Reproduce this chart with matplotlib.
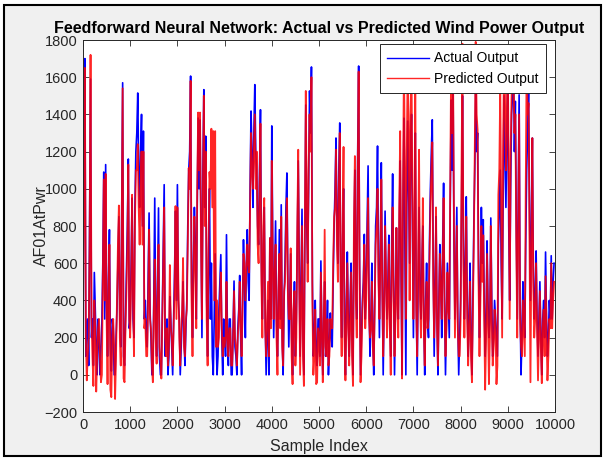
import numpy as np
import matplotlib
matplotlib.use("Agg")
import matplotlib.pyplot as plt
from matplotlib.patches import Rectangle

plt.rcParams['font.family'] = ['Liberation Sans', 'DejaVu Sans']

# values read every 20 samples: the *_mid lists sit half way (20, 60, 100, ...)
STEP = 40

actual = [
    # 0 - 960
    450, 1700, 250, 50, 1590, 300, 550, 150, 300, 0, 280, 1090, 1130, 100, 780,
    20, 250, 0, 350, 850, 150, 1570, 50, 550, 1160,
    # 1000 - 1960
    300, 950, 200, 1200, 1515, 900, 1400, 1310, 400, 150, 870, 200, 0, 950, 100,
    897, 0, 350, 1022, 250, 0, 420, 150, 300, 880,
    # 2000 - 2960
    1022, 300, 150, 500, 50, 400, 1100, 1606, 200, 900, 300, 1380, 1370, 200, 1533,
    1283, 100, 1000, 600, 0, 650, 0, 350, 646, 0,
    # 3000 - 3960
    250, 753, 50, 300, 0, 504, 100, 250, 534, 0, 726, 200, 780, 400, 1418,
    900, 1560, 1100, 700, 1425, 300, 900, 0, 400, 735,
    # 4000 - 4960
    1338, 200, 827, 100, 780, 914, 0, 600, 1085, 150, 650, 0, 500, 300, 1150,
    100, 890, 0, 1450, 600, 1526, 1655, 100, 400, 50,
    # 5000 - 5960
    300, 612, 0, 500, 200, 0, 332, 150, 800, 1273, 600, 1354, 200, 1000, 0,
    660, 100, 600, 0, 1100, 300, 1660, 0, 400, 755,
    # 6000 - 6960
    500, 1123, 100, 600, 0, 800, 1230, 200, 1140, 0, 880, 300, 750, 100, 1080,
    0, 790, 300, 1150, 0, 1380, 0, 1364, 600, 1400,
    # 7000 - 7960
    200, 1300, 0, 900, 300, 800, 0, 600, 200, 1000, 1371, 100, 850, 0, 700,
    200, 1030, 0, 600, 200, 1477, 1550, 300, 900, 0,
    # 8000 - 8960
    400, 1500, 300, 957, 100, 600, 0, 800, 1526, 1300, 200, 900, 834, 100, 720,
    200, 843, 100, 400, 200, 700, 1100, 300, 1500, 900,
    # 9000 - 9960
    1600, 400, 1400, 1700, 1470, 300, 1505, 0, 500, 200, 1100, 1530, 400, 1273, 300,
    666, 100, 500, 0, 400, 660, 100, 400, 640, 500,
]

actual_mid = [
    1200, 100, 300, 800, 200, 50, 350, 0, 200, 150, 600, 300, 400, 500, 150,
    300, 0, 200, 600, 300, 900, 100, 300, 800, 250,
    600, 300, 900, 1300, 1100, 1200, 800, 300, 200, 500, 350, 0, 400, 300, 500,
    100, 0, 700, 100, 300, 100, 300, 0, 550, 400,
    400, 0, 300, 200, 250, 800, 1200, 500, 600, 700, 900, 1000, 800, 1100, 900,
    400, 600, 300, 100, 300, 200, 100, 500, 200, 300,
    100, 200, 300, 0, 250, 150, 0, 350, 200, 400, 500, 600, 500, 1000, 1200,
    1300, 1200, 800, 1100, 600, 700, 300, 200, 0, 300,
    700, 500, 300, 400, 300, 200, 400, 900, 500, 400, 200, 300, 100, 700, 600,
    500, 200, 700, 800, 1000, 1300, 500, 200, 100, 300,
    100, 200, 300, 100, 400, 150, 200, 500, 1000, 800, 1100, 500, 700, 300, 400,
    300, 400, 200, 700, 500, 1200, 600, 200, 500, 300,
    800, 400, 300, 200, 400, 900, 600, 700, 500, 400, 500, 500, 300, 700, 500,
    400, 500, 800, 500, 900, 700, 900, 1000, 1200, 800,
    700, 400, 500, 500, 600, 300, 400, 300, 700, 1200, 600, 500, 300, 400, 500,
    700, 400, 300, 400, 900, 1100, 700, 600, 300, 200,
    900, 700, 600, 400, 300, 200, 400, 1100, 1200, 600, 500, 600, 400, 300, 400,
    300, 400, 200, 300, 100, 900, 600, 900, 1200, 1300,
    800, 1000, 1500, 1200, 800, 900, 400, 200, 300, 700, 1300, 900, 800, 600, 400,
    300, 300, 200, 300, 200, 300, 200, 300, 300, 600,
]

predicted = [
    # 0 - 960
    300, 1650, -30, 200, 1720, 100, 400, -90, 250, 100, 0, 1050, 1080, -50, 700,
    -120, 300, -130, 400, 910, 50, 1540, -40, 450, 1130,
    # 1000 - 1960
    200, 968, 100, 1100, 1240, 700, 1200, 1200, 300, 100, 780, 250, -40, 620, 60,
    700, 80, 300, 900, 100, 50, 590, 200, 250, 907,
    # 2000 - 2960
    900, 200, 250, 628, 100, 350, 1112, 1580, 100, 850, 250, 1410, 1410, 300, 1500,
    1200, 50, 1090, 1323, 1310, 1310, 400, 200, 550, 100,
    # 3000 - 3960
    150, 500, 100, 250, 50, 450, 150, 200, 500, 100, 650, 400, 700, 550, 1300,
    1000, 1400, 1200, 600, 1350, 200, 950, 100, 500, 735,
    # 4000 - 4960
    1150, 300, 700, 0, 650, 850, 50, 500, 950, 300, 680, -50, 450, 200, 1210,
    0, 800, -60, 1526, 500, 1400, 1600, 0, 350, -40,
    # 5000 - 5960
    200, 550, -40, 780, 100, 50, 300, 250, 850, 1210, 500, 1300, 100, 1225, -30,
    600, 50, 550, -60, 1176, 200, 1630, -40, 350, 700,
    # 6000 - 6960
    400, 950, 200, 500, 50, 700, 1000, 300, 1050, 100, 800, 200, 700, 0, 900,
    100, 790, 200, 1310, -20, 1700, 300, 1680, 400, 1650,
    # 7000 - 7960
    300, 1600, 100, 1210, 200, 950, 50, 500, 300, 900, 1250, 200, 900, 50, 650,
    300, 950, 100, 550, 300, 1700, 1650, 200, 800, 100,
    # 8000 - 8960
    300, 1780, 200, 850, 50, 500, -40, 700, 1790, 1316, 100, 800, 750, -80, 650,
    -50, 800, 50, 350, -50, 968, 1560, 200, 1700, 1100,
    # 9000 - 9960
    1750, 300, 1500, 1650, 1400, 200, 1400, 150, 400, 100, 1710, 1460, -40, 1273, 200,
    600, -30, 450, -45, 350, 530, -30, 300, 600, 400,
]

predicted_mid = [
    1100, 200, 100, 700, 300, -60, 250, 100, 300, -40, 500, 400, 300, 450, -80,
    200, 150, 100, 700, 200, 800, -20, 250, 700, 300,
    500, 400, 800, 1100, 900, 1000, 700, 250, 100, 400, 300, 50, 350, 200, 450,
    150, -20, 600, 200, 250, 150, 250, 50, 450, 300,
    500, 50, 350, 150, 300, 700, 1000, 400, 500, 600, 1000, 1100, 700, 1000, 800,
    300, 700, 1000, 900, 400, 150, 150, 400, 250, 200,
    200, 150, 250, 50, 200, 200, 50, 300, 250, 350, 600, 550, 600, 900, 1100,
    1200, 1000, 700, 1000, 500, 800, 250, 300, 100, 250,
    600, 550, 200, 450, 250, 150, 450, 800, 450, 300, 100, 350, 50, 800, 500,
    400, 100, 800, 900, 1100, 1200, 400, 100, -50, 250,
    50, 250, 200, 150, 300, 100, 250, 600, 900, 700, 1000, 400, 800, 200, 300,
    250, 300, 100, 800, 400, 1100, 500, 100, 450, 250,
    700, 300, 250, 150, 350, 800, 500, 600, 450, 350, 550, 400, 250, 600, 450,
    300, 400, 900, 600, 1000, 1100, 1200, 1300, 1400, 900,
    800, 350, 600, 400, 500, 250, 350, 250, 600, 1100, 500, 400, 250, 350, 450,
    600, 350, 250, 350, 1000, 1300, 800, 500, 250, 100,
    1100, 600, 500, 300, 250, 100, 350, 1200, 1400, 500, 400, 500, 300, 200, 300,
    200, 300, 150, 250, 50, 1100, 900, 1200, 1500, 1400,
    1000, 1200, 1600, 1300, 700, 800, 300, 100, 250, 1000, 1400, 700, 700, 500, 300,
    250, 200, 150, 250, 100, 250, 100, 250, 250, 500,
]

xticks = list(range(0, 10001, 1000))
yticks = list(range(-200, 1801, 200))


def weave(main, mid):
    # main values at 0, 40, 80 ...; mid values at 20, 60, 100 ...
    out = np.empty(len(main) + len(mid))
    out[0::2] = main
    out[1::2] = mid
    return out


y_act = weave(actual, actual_mid)
y_pred = weave(predicted, predicted_mid)
idx = np.arange(len(y_act)) * (STEP // 2)

fig = plt.figure(figsize=(6.06, 4.59), dpi=100, facecolor='white')
# grey window with a dark frame, like the screenshot
fig.patches.append(Rectangle((4 / 606, 3 / 459), 597 / 606, 451 / 459,
                             transform=fig.transFigure, facecolor='#f0f0f0',
                             edgecolor='black', linewidth=1.5, zorder=-1))

ax = fig.add_axes([83 / 606, 47 / 459, 472 / 606, 372 / 459])
ax.plot(idx, y_act, color='#0000ff', lw=1.2, label='Actual Output')
ax.plot(idx, y_pred, color='#ff0000', lw=1.3, alpha=0.85, label='Predicted Output')

ax.set_xlim(0, 10000)
ax.set_ylim(-200, 1800)
ax.set_xticks(xticks)
ax.set_yticks(yticks)
ax.tick_params(direction='in', top=True, right=True, length=4, width=0.6,
               labelsize=10.5, colors='#262626', pad=4)
for s in ax.spines.values():
    s.set_color('#262626')
    s.set_linewidth(0.7)

ax.set_title('Feedforward Neural Network: Actual vs Predicted Wind Power Output',
             fontsize=11.5, fontweight='bold', pad=5)
ax.set_xlabel('Sample Index', fontsize=11.5, color='#262626', labelpad=5)
ax.set_ylabel('AF01AtPwr', fontsize=11.5, color='#262626', labelpad=-3)

leg = ax.legend(loc='upper right', bbox_to_anchor=(0.98, 0.988), fontsize=10,
                fancybox=False, framealpha=1, edgecolor='#262626',
                borderaxespad=0, handlelength=3.0, borderpad=0.5,
                labelspacing=0.45, handletextpad=0.4)
leg.get_frame().set_linewidth(0.7)
for line in leg.get_lines():
    line.set_linewidth(1.0)

fig.savefig('out.png', dpi=100, facecolor=fig.get_facecolor())
